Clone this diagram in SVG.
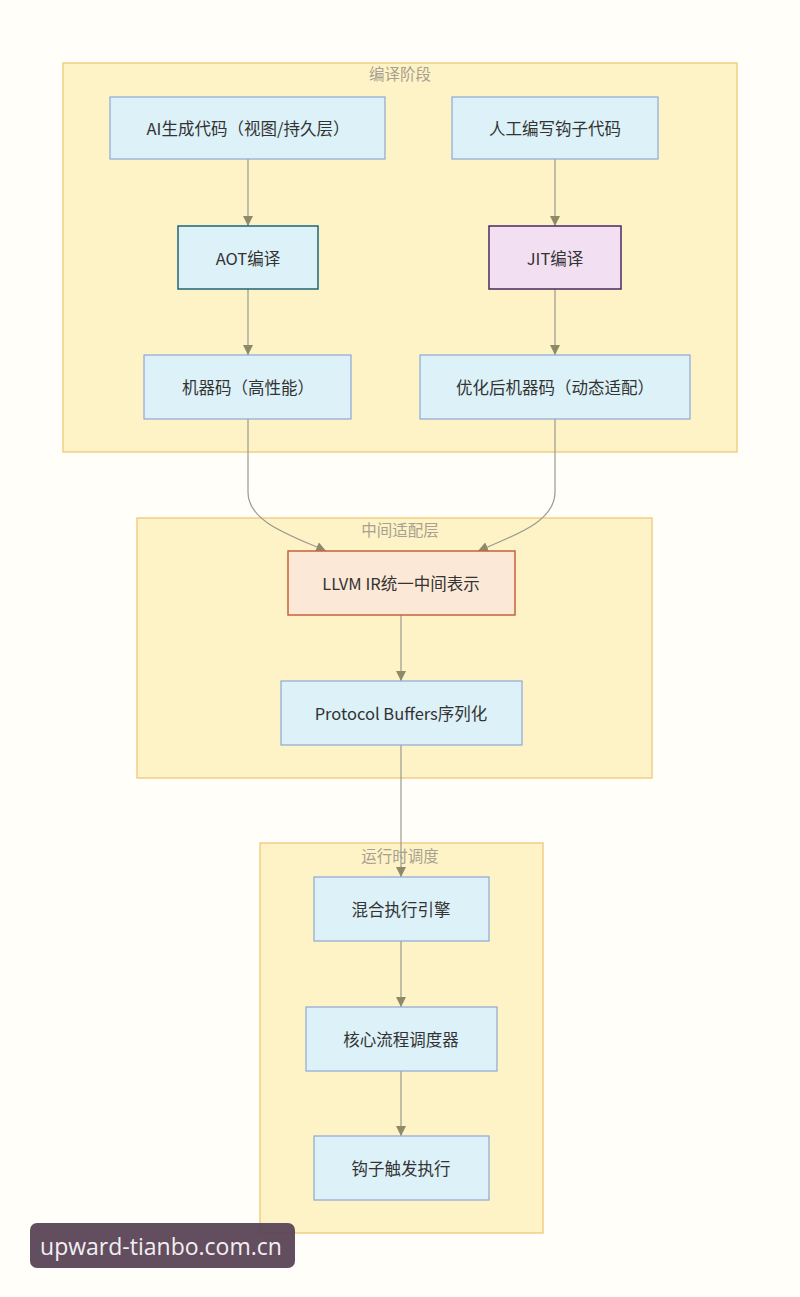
<svg xmlns="http://www.w3.org/2000/svg" width="800" height="1297" viewBox="0 0 800 1297">
<defs>
<style>
.cl{fill:#fdf3c6;stroke:#f2c778;stroke-width:1.3}
.cll{font-family:"Noto Sans CJK SC","Noto Sans",sans-serif;font-size:15.5px;fill:#a8a090;text-anchor:middle}
.nd{fill:#dcf1f8;stroke:#8ea9d6;stroke-width:1.2}
.t{font-family:"Noto Sans CJK SC","Noto Sans",sans-serif;font-size:16.5px;fill:#333333;text-anchor:middle;dominant-baseline:central}
.e{fill:none;stroke:#9a9a90;stroke-width:1.2}
</style>
<marker id="ah" viewBox="0 0 10 10" refX="10" refY="5" markerWidth="10" markerHeight="10" markerUnits="userSpaceOnUse" orient="auto">
<path d="M0,0 L10,5 L0,10 z" fill="#8c8a68"/>
</marker>
</defs>
<rect x="0" y="0" width="800" height="1297" fill="#fffef8"/>
<g id="cluster-compile">
<rect class="cl" x="63" y="63" width="674" height="389"/>
<text class="cll" x="400" y="80">编译阶段</text>
</g>
<g id="cluster-middle">
<rect class="cl" x="137" y="518" width="515" height="260"/>
<text class="cll" x="400" y="536">中间适配层</text>
</g>
<g id="cluster-runtime">
<rect class="cl" x="260" y="843" width="283" height="390"/>
<text class="cll" x="400" y="862">运行时调度</text>
</g>
<g id="edges">
<path class="e" d="M248,159 L248,226" marker-end="url(#ah)"/>
<path class="e" d="M555,159 L555,226" marker-end="url(#ah)"/>
<path class="e" d="M248,289 L248,355" marker-end="url(#ah)"/>
<path class="e" d="M555,289 L555,355" marker-end="url(#ah)"/>
<path class="e" d="M248,419 L248,492 C248,522 290,535 326,551" marker-end="url(#ah)"/>
<path class="e" d="M555,419 L555,492 C555,522 515,535 478,551" marker-end="url(#ah)"/>
<path class="e" d="M401,615 L401,681" marker-end="url(#ah)"/>
<path class="e" d="M401,745 L401,877" marker-end="url(#ah)"/>
<path class="e" d="M401,941 L401,1007" marker-end="url(#ah)"/>
<path class="e" d="M401,1071 L401,1136" marker-end="url(#ah)"/>
</g>
<g id="n-ai">
<rect class="nd" x="110" y="97" width="275" height="62"/>
<text class="t" x="248" y="128">AI生成代码（视图/持久层）</text>
</g>
<g id="n-human">
<rect class="nd" x="452" y="97" width="206" height="62"/>
<text class="t" x="555" y="128">人工编写钩子代码</text>
</g>
<g id="n-aot">
<rect x="178" y="226" width="140" height="63" fill="#dcf1f8" stroke="#1f6478" stroke-width="1.5"/>
<text class="t" x="248" y="258">AOT编译</text>
</g>
<g id="n-jit">
<rect x="489" y="226" width="132" height="63" fill="#f2e0f2" stroke="#4a2a60" stroke-width="1.5"/>
<text class="t" x="555" y="258">JIT编译</text>
</g>
<g id="n-mc1">
<rect class="nd" x="144" y="355" width="207" height="64"/>
<text class="t" x="248" y="387">机器码（高性能）</text>
</g>
<g id="n-mc2">
<rect class="nd" x="420" y="355" width="270" height="64"/>
<text class="t" x="555" y="387">优化后机器码（动态适配）</text>
</g>
<g id="n-llvm">
<rect x="288" y="551" width="227" height="64" fill="#fbe8d6" stroke="#c8623a" stroke-width="1.5"/>
<text class="t" x="401" y="583">LLVM IR统一中间表示</text>
</g>
<g id="n-pb">
<rect class="nd" x="281" y="681" width="241" height="64"/>
<text class="t" x="401" y="713">Protocol Buffers序列化</text>
</g>
<g id="n-engine">
<rect class="nd" x="314" y="877" width="175" height="64"/>
<text class="t" x="401" y="909">混合执行引擎</text>
</g>
<g id="n-sched">
<rect class="nd" x="306" y="1007" width="191" height="64"/>
<text class="t" x="401" y="1039">核心流程调度器</text>
</g>
<g id="n-hook">
<rect class="nd" x="314" y="1136" width="175" height="64"/>
<text class="t" x="401" y="1168">钩子触发执行</text>
</g>
<g id="watermark">
<rect x="30" y="1223" width="265" height="45" rx="7" fill="#5a4456" fill-opacity="0.95"/>
<text x="161" y="1246" font-family="'Open Sans','Noto Sans',sans-serif" font-size="23" fill="#f2eef2" text-anchor="middle" dominant-baseline="central">upward-tianbo.com.cn</text>
</g>
</svg>
